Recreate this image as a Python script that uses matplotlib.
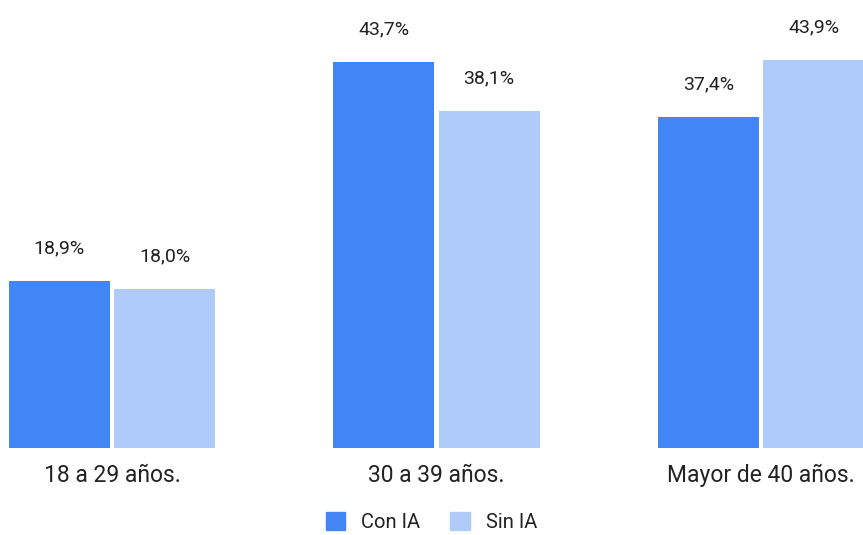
import numpy as np
import matplotlib.pyplot as plt
from matplotlib.patches import Patch

plt.rcParams.update({
    "font.family": ["Roboto", "DejaVu Sans"],
    "text.color": "#222222",
})

# ── Data ───────────────────────────────────────────────────────────────────
categories = ["18 a 29 años.", "30 a 39 años.", "Mayor de 40 años."]
series_names = ["Con IA", "Sin IA"]
con_ia = [18.9, 43.7, 37.4]
sin_ia = [18.0, 38.1, 43.9]

C_CON = "#4285f4"
C_SIN = "#aecbfa"

fig = plt.figure(figsize=(8.63, 5.35), dpi=100)
ax = fig.add_axes([0, 0.1626, 1, 0.8374])

x = np.arange(len(categories))
w = 0.311
off = 0.162

ax.bar(x - off, con_ia, width=w, color=C_CON)
ax.bar(x + off, sin_ia, width=w, color=C_SIN)

for xs, vals in ((x - off, con_ia), (x + off, sin_ia)):
    for xi, v in zip(xs, vals):
        ax.annotate(f"{v:.1f}%".replace(".", ","), (xi, v),
                    xytext=(0, 23.5), textcoords="offset points",
                    ha="center", va="center", fontsize=14)

ax.set_xlim(-0.345, 2.314)
ax.set_ylim(0, 50.68)
ax.set_xticks(x)
ax.set_xticklabels(categories, fontsize=16.5, color="#222222")
ax.tick_params(axis="x", length=0, pad=11.5)
ax.set_yticks([])
for s in ax.spines.values():
    s.set_visible(False)

handles = [Patch(color=C_CON, label=series_names[0]),
           Patch(color=C_SIN, label=series_names[1])]
fig.legend(handles=handles, loc="center", bbox_to_anchor=(0.5, 0.024),
           ncol=2, frameon=False, fontsize=14.5, handlelength=0.95,
           handleheight=0.95, handletextpad=0.8, columnspacing=1.5,
           borderpad=0.2)

fig.savefig("out.png", dpi=100)
